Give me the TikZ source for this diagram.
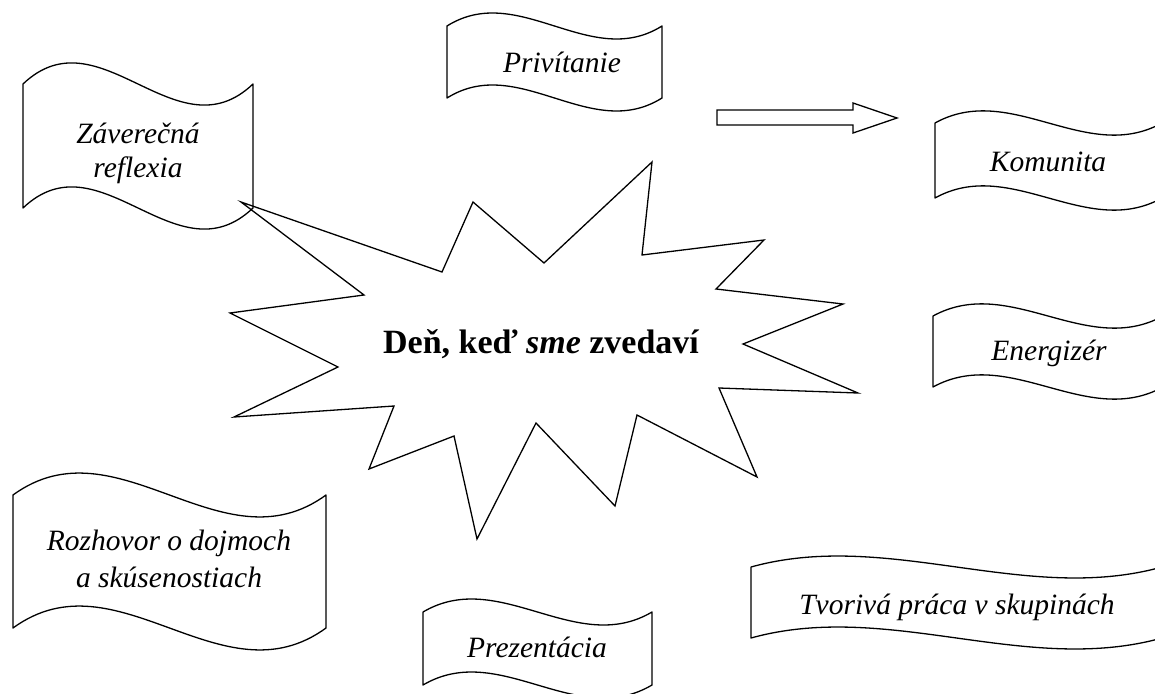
\documentclass[tikz,border=0pt]{standalone}
\usepackage{fontspec}
\setmainfont{Liberation Serif}
\newcommand\wavepath[5]{%
  \pgfmathsetmacro\wxa{#1+#3/3}%
  \pgfmathsetmacro\wxb{#1+2*#3/3}%
  \pgfmathsetmacro\wxc{#1+#3}%
  \pgfmathsetmacro\wyu{#2-#5}%
  \pgfmathsetmacro\wyd{#2+#5}%
  \pgfmathsetmacro\wyb{#2+#4}%
  \pgfmathsetmacro\wybu{#2+#4-#5}%
  \pgfmathsetmacro\wybd{#2+#4+#5}%
  \draw[banner] (#1,#2) .. controls (\wxa,\wyu) and (\wxb,\wyd) .. (\wxc,#2)
     -- (\wxc,\wyb) .. controls (\wxb,\wybd) and (\wxa,\wybu) .. (#1,\wyb) -- cycle;}
\begin{document}
\begin{tikzpicture}[x=1pt,y=-1pt,
  banner/.style={draw=black,line width=1.3pt,line join=round},
  outline/.style={draw=black,line width=1.3pt,line join=miter},
  label/.style={anchor=base,inner sep=0pt,font=\fontsize{29.5}{35}\selectfont\itshape},
  title/.style={anchor=base,inner sep=0pt,font=\fontsize{34}{40}\selectfont\bfseries}]
\path[fill=white] (0,0) rectangle (1155,693);
\useasboundingbox (0,0) rectangle (1155,693);

% banners
\wavepath{23}{84}{230}{124}{73}
\wavepath{447}{26}{215}{72}{45}
\wavepath{935}{123}{227}{75}{42}
\wavepath{933}{316}{230}{71}{42}
\wavepath{13}{495}{313}{133}{76}
\wavepath{423}{612}{229}{73}{45}
\wavepath{751}{567}{411}{71}{38}

% star
\draw[outline] (241,202) -- (442,272) -- (473,202) -- (544,263) -- (652,162) -- (642,255)
  -- (764,240) -- (716,289) -- (843,304) -- (743,344) -- (858,393) -- (719,388)
  -- (757,477) -- (637,415) -- (615,506) -- (536,423) -- (477,539) -- (454,436)
  -- (369,469) -- (394,406) -- (234,417) -- (338,367) -- (230,313) -- (364,295) -- cycle;

% block arrow
\draw[outline] (717,110) -- (853,110) -- (853,103) -- (897,118) -- (853,133)
  -- (853,125) -- (717,125) -- cycle;

% texts
\node[title] (center) at (541,353) {Deň, keď \textit{sme} zvedaví};
\node[label] (zav1) at (138,143) {Záverečná};
\node[label] (zav2) at (138,177) {reflexia};
\node[label] (priv) at (562,72) {Privítanie};
\node[label] (kom) at (1048,171) {Komunita};
\node[label] (ener) at (1049,360) {Energizér};
\node[label] (roz1) at (169,550) {Rozhovor o dojmoch};
\node[label] (roz2) at (169,587) {a skúsenostiach};
\node[label] (prez) at (537,657) {Prezentácia};
\node[label] (tvor) at (957,614) {Tvorivá práca v skupinách};
\end{tikzpicture}
\end{document}
